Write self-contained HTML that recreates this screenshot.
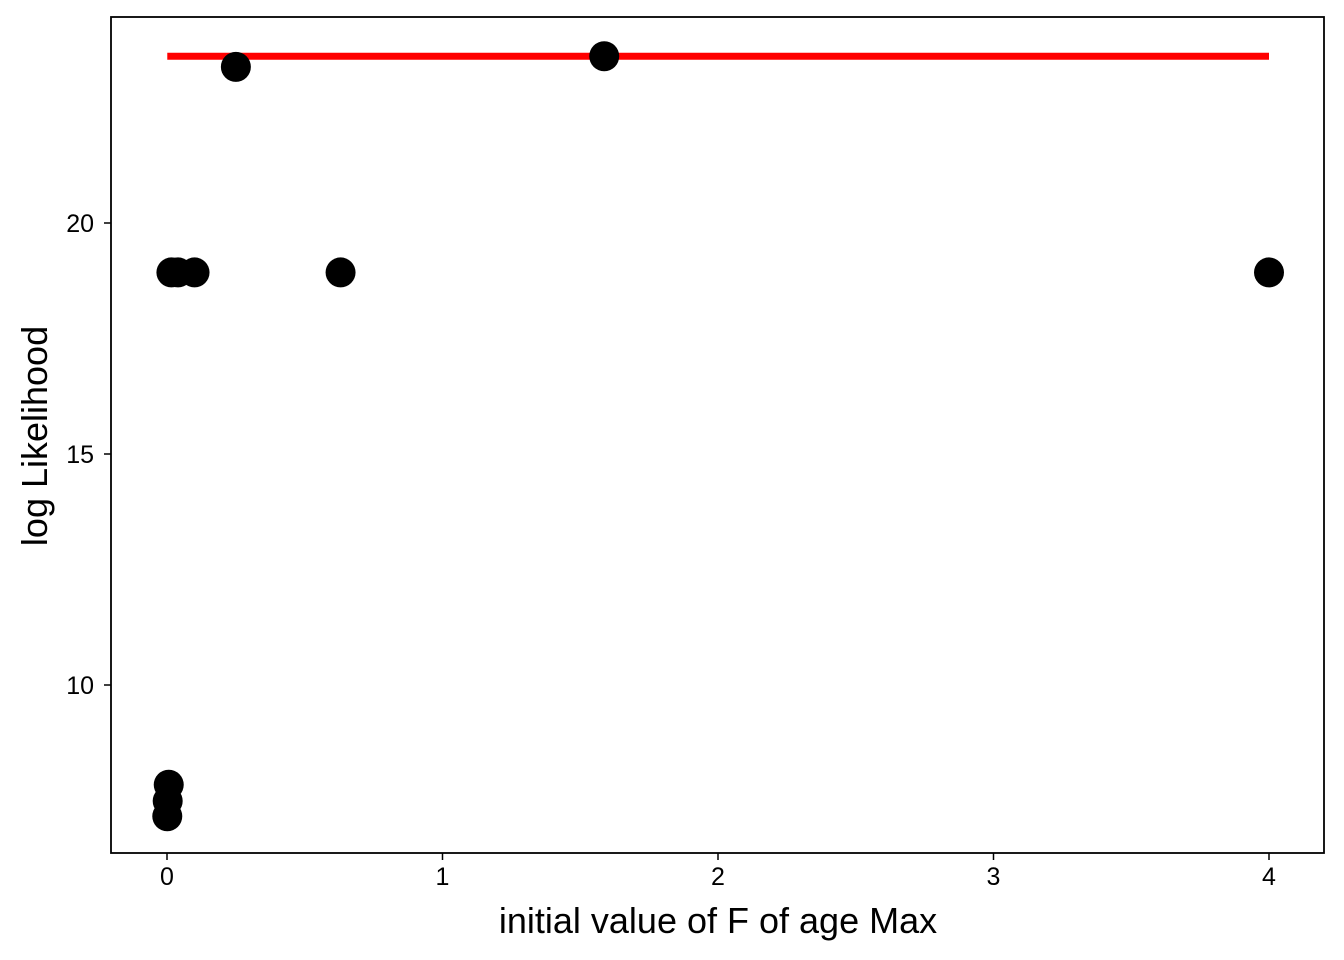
<!DOCTYPE html>
<html><head><meta charset="utf-8"><style>
body{margin:0;background:#fff;}
svg{display:block;font-family:"Liberation Sans",Arial,sans-serif;}
</style></head><body>
<svg id="chart" width="1344" height="960"></svg>
<script>
const xValues=[0.001,0.0025,0.0063,0.016,0.04,0.1,0.25,0.63,1.587,4];
const yValues=[7.16,7.49,7.84,18.93,18.93,18.93,23.38,18.93,23.61,18.93];
const xTicks=[0,1,2,3,4];
const yTicks=[10,15,20];
const lineX=[0.001,4];
const lineY=[23.61,23.61];
const NS="http://www.w3.org/2000/svg";
const svg=document.getElementById('chart');
const L=111,R=1324,T=17,B=853;
function sx(v){return 167+v*275.5;}
function sy(v){return 223-(v-20)*46.2;}
function mk(t,a,p){const e=document.createElementNS(NS,t);for(const k in a)e.setAttribute(k,a[k]);(p||svg).appendChild(e);return e;}
const frame=mk('rect',{x:L,y:T,width:R-L,height:B-T,fill:'#fff',stroke:'#000','stroke-width':1.8});


xTicks.forEach(v=>{
  const l=mk('line',{x1:sx(v),x2:sx(v),y1:B,y2:B+7,stroke:'#000','stroke-width':1.5});
  
  
  const t=mk('text',{x:sx(v),y:B+32,'font-size':25,'text-anchor':'middle',fill:'#000'});
  t.textContent=v;
  
  
});
yTicks.forEach(v=>{
  const l=mk('line',{x1:L-7,x2:L,y1:sy(v),y2:sy(v),stroke:'#000','stroke-width':1.5});
  
  
  const t=mk('text',{x:L-17,y:sy(v)+9,'font-size':25,'text-anchor':'end',fill:'#000'});
  t.textContent=v;
  
  
});
const ln=mk('line',{x1:sx(lineX[0]),x2:sx(lineX[1]),y1:sy(lineY[0]),y2:sy(lineY[1]),stroke:'#ff0000','stroke-width':7});


xValues.forEach((x,i)=>{
  const c=mk('circle',{cx:sx(x),cy:sy(yValues[i]),r:15,fill:'#000'});
  
  
});
const xt=mk('text',{x:718,y:933,'font-size':36,'text-anchor':'middle',fill:'#000'});
xt.textContent='initial value of F of age Max';


const yt=mk('text',{x:0,y:0,'font-size':36,'text-anchor':'middle',fill:'#000',transform:'translate(47,436) rotate(-90)'});
yt.textContent='log Likelihood';


</script>
</body></html>
